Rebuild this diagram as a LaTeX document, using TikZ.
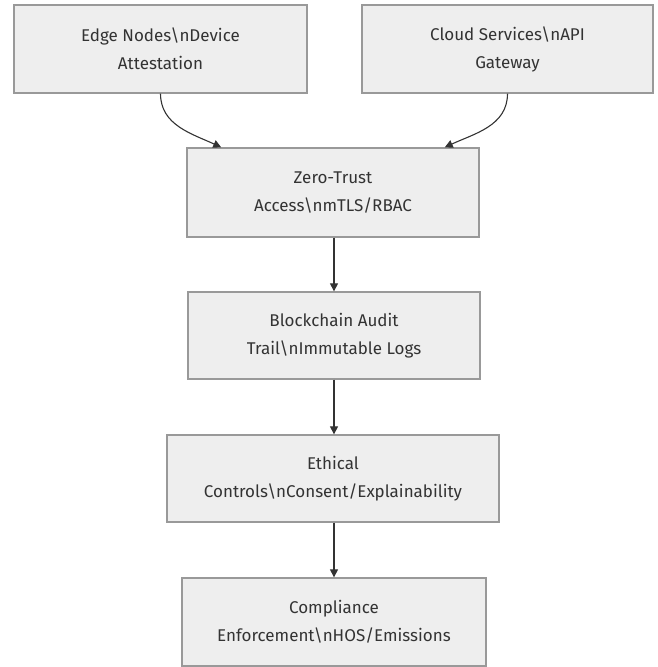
\documentclass[tikz,border=0pt]{standalone}
\usepackage{fontspec}
\setmainfont{Fira Sans}
\usetikzlibrary{arrows.meta}
\definecolor{boxfill}{HTML}{EEEEEE}
\definecolor{boxline}{HTML}{999999}
\definecolor{ink}{HTML}{333333}
\tikzset{
  stagebox/.style={draw=boxline, line width=1.3pt, fill=boxfill, text=ink,
    minimum height=88pt, align=center, inner sep=0pt,
    font=\fontsize{17pt}{28pt}\selectfont},
  flow/.style={draw=ink, line width=1.1pt,
    -{Triangle[length=8pt,width=8pt]}}
}
\begin{document}
\begin{tikzpicture}[x=1pt,y=-1pt]
\useasboundingbox (0,0) rectangle (658,667);
\node[stagebox, minimum width=293pt] (edge) at (160.5,49)
  {Edge Nodes\textbackslash nDevice\\Attestation};
\node[stagebox, minimum width=291pt] (cloud) at (507.5,49)
  {Cloud Services\textbackslash nAPI\\Gateway};
\node[stagebox, minimum width=292pt, minimum height=89pt] (zt) at (333,192.5)
  {Zero-Trust\\Access\textbackslash nmTLS/RBAC};
\node[stagebox, minimum width=292pt, minimum height=87pt] (chain) at (334,335.5)
  {Blockchain Audit\\Trail\textbackslash nImmutable Logs};
\node[stagebox, minimum width=332pt, minimum height=87pt] (ethics) at (333,478.5)
  {Ethical\\Controls\textbackslash nConsent/Explainability};
\node[stagebox, minimum width=304pt, minimum height=88pt] (comply) at (334,622)
  {Compliance\\Enforcement\textbackslash nHOS/Emissions};
\draw[flow] (edge.south) to[out=-90, in=155] (zt.158);
\draw[flow] (cloud.south) to[out=-90, in=25] (zt.22);
\draw[flow] (zt.south -| chain.north) -- (chain.north);
\draw[flow] (chain.south) -- (chain.south |- ethics.north);
\draw[flow] (chain.south |- ethics.south) -- (chain.south |- comply.north);
\end{tikzpicture}
\end{document}
